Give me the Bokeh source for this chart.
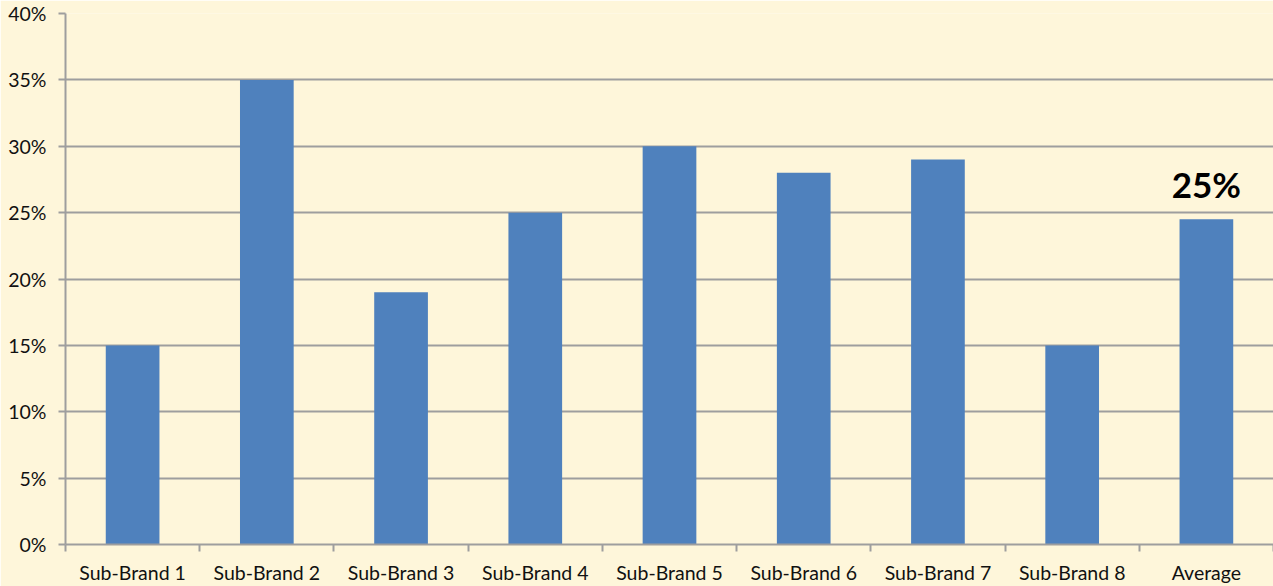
import numpy as np
from bokeh.plotting import figure
from bokeh.models import Range1d, FixedTicker, NumeralTickFormatter, ColumnDataSource
from bokeh.core.properties import value
from bokeh.embed import file_html
from bokeh.resources import INLINE

categories = ["Sub-Brand 1", "Sub-Brand 2", "Sub-Brand 3", "Sub-Brand 4", "Sub-Brand 5",
              "Sub-Brand 6", "Sub-Brand 7", "Sub-Brand 8", "Average"]
shares = [0.15, 0.35, 0.19, 0.25, 0.30, 0.28, 0.29, 0.15, 0.245]
y_ticks = [0.0, 0.05, 0.10, 0.15, 0.20, 0.25, 0.30, 0.35, 0.40]
highlight_label = "25%"

BG = "#FEF6DA"
GRID = "#9E9E9E"
BAR = "#4F81BD"
FONT = "Lato"

n = len(categories)
centers = np.arange(n) + 0.5
src = ColumnDataSource(dict(x=centers, top=shares))

p = figure(width=1273, height=586, output_backend="svg", toolbar_location=None,
           x_range=Range1d(0, n), y_range=Range1d(0, 0.40),
           min_border_left=65, min_border_right=0, min_border_top=13, min_border_bottom=42)
p.background_fill_color = BG
p.border_fill_color = BG
p.outline_line_color = None

p.vbar(x="x", top="top", width=0.4, source=src, fill_color=BAR, line_color=None)

# highlight label on the Average bar
p.text(x=[centers[-1]], y=[shares[-1]], text=[highlight_label], text_align="center",
       text_baseline="bottom", y_offset=-14, text_font=value(FONT), text_font_style="bold",
       text_font_size="35px", text_color="#000000")

# x axis: labels at centres (major), tick marks at boundaries (minor)
xa = p.xaxis[0]
xa.ticker = FixedTicker(ticks=list(centers), minor_ticks=list(range(n + 1)))
xa.major_label_overrides = {float(c): lab for c, lab in zip(centers, categories)}
xa.major_tick_line_color = None
xa.minor_tick_line_color = GRID
xa.minor_tick_line_width = 2
xa.minor_tick_out = 7
xa.minor_tick_in = 0
xa.axis_line_color = GRID
xa.axis_line_width = 2
xa.major_label_text_font = FONT
xa.major_label_text_font_size = "19.5px"
xa.major_label_text_color = "#111111"
xa.major_label_standoff = 9

ya = p.yaxis[0]
ya.ticker = FixedTicker(ticks=y_ticks)
ya.formatter = NumeralTickFormatter(format="0%")
ya.minor_tick_line_color = None
ya.major_tick_line_color = GRID
ya.major_tick_line_width = 2
ya.major_tick_out = 7
ya.major_tick_in = 0
ya.axis_line_color = GRID
ya.axis_line_width = 2
ya.major_label_text_font = FONT
ya.major_label_text_font_size = "19.5px"
ya.major_label_text_color = "#111111"
ya.major_label_standoff = 12

p.xgrid.grid_line_color = None
p.ygrid.grid_line_color = GRID
p.ygrid.grid_line_width = 2

open("out.html", "w").write(file_html(p, INLINE))
